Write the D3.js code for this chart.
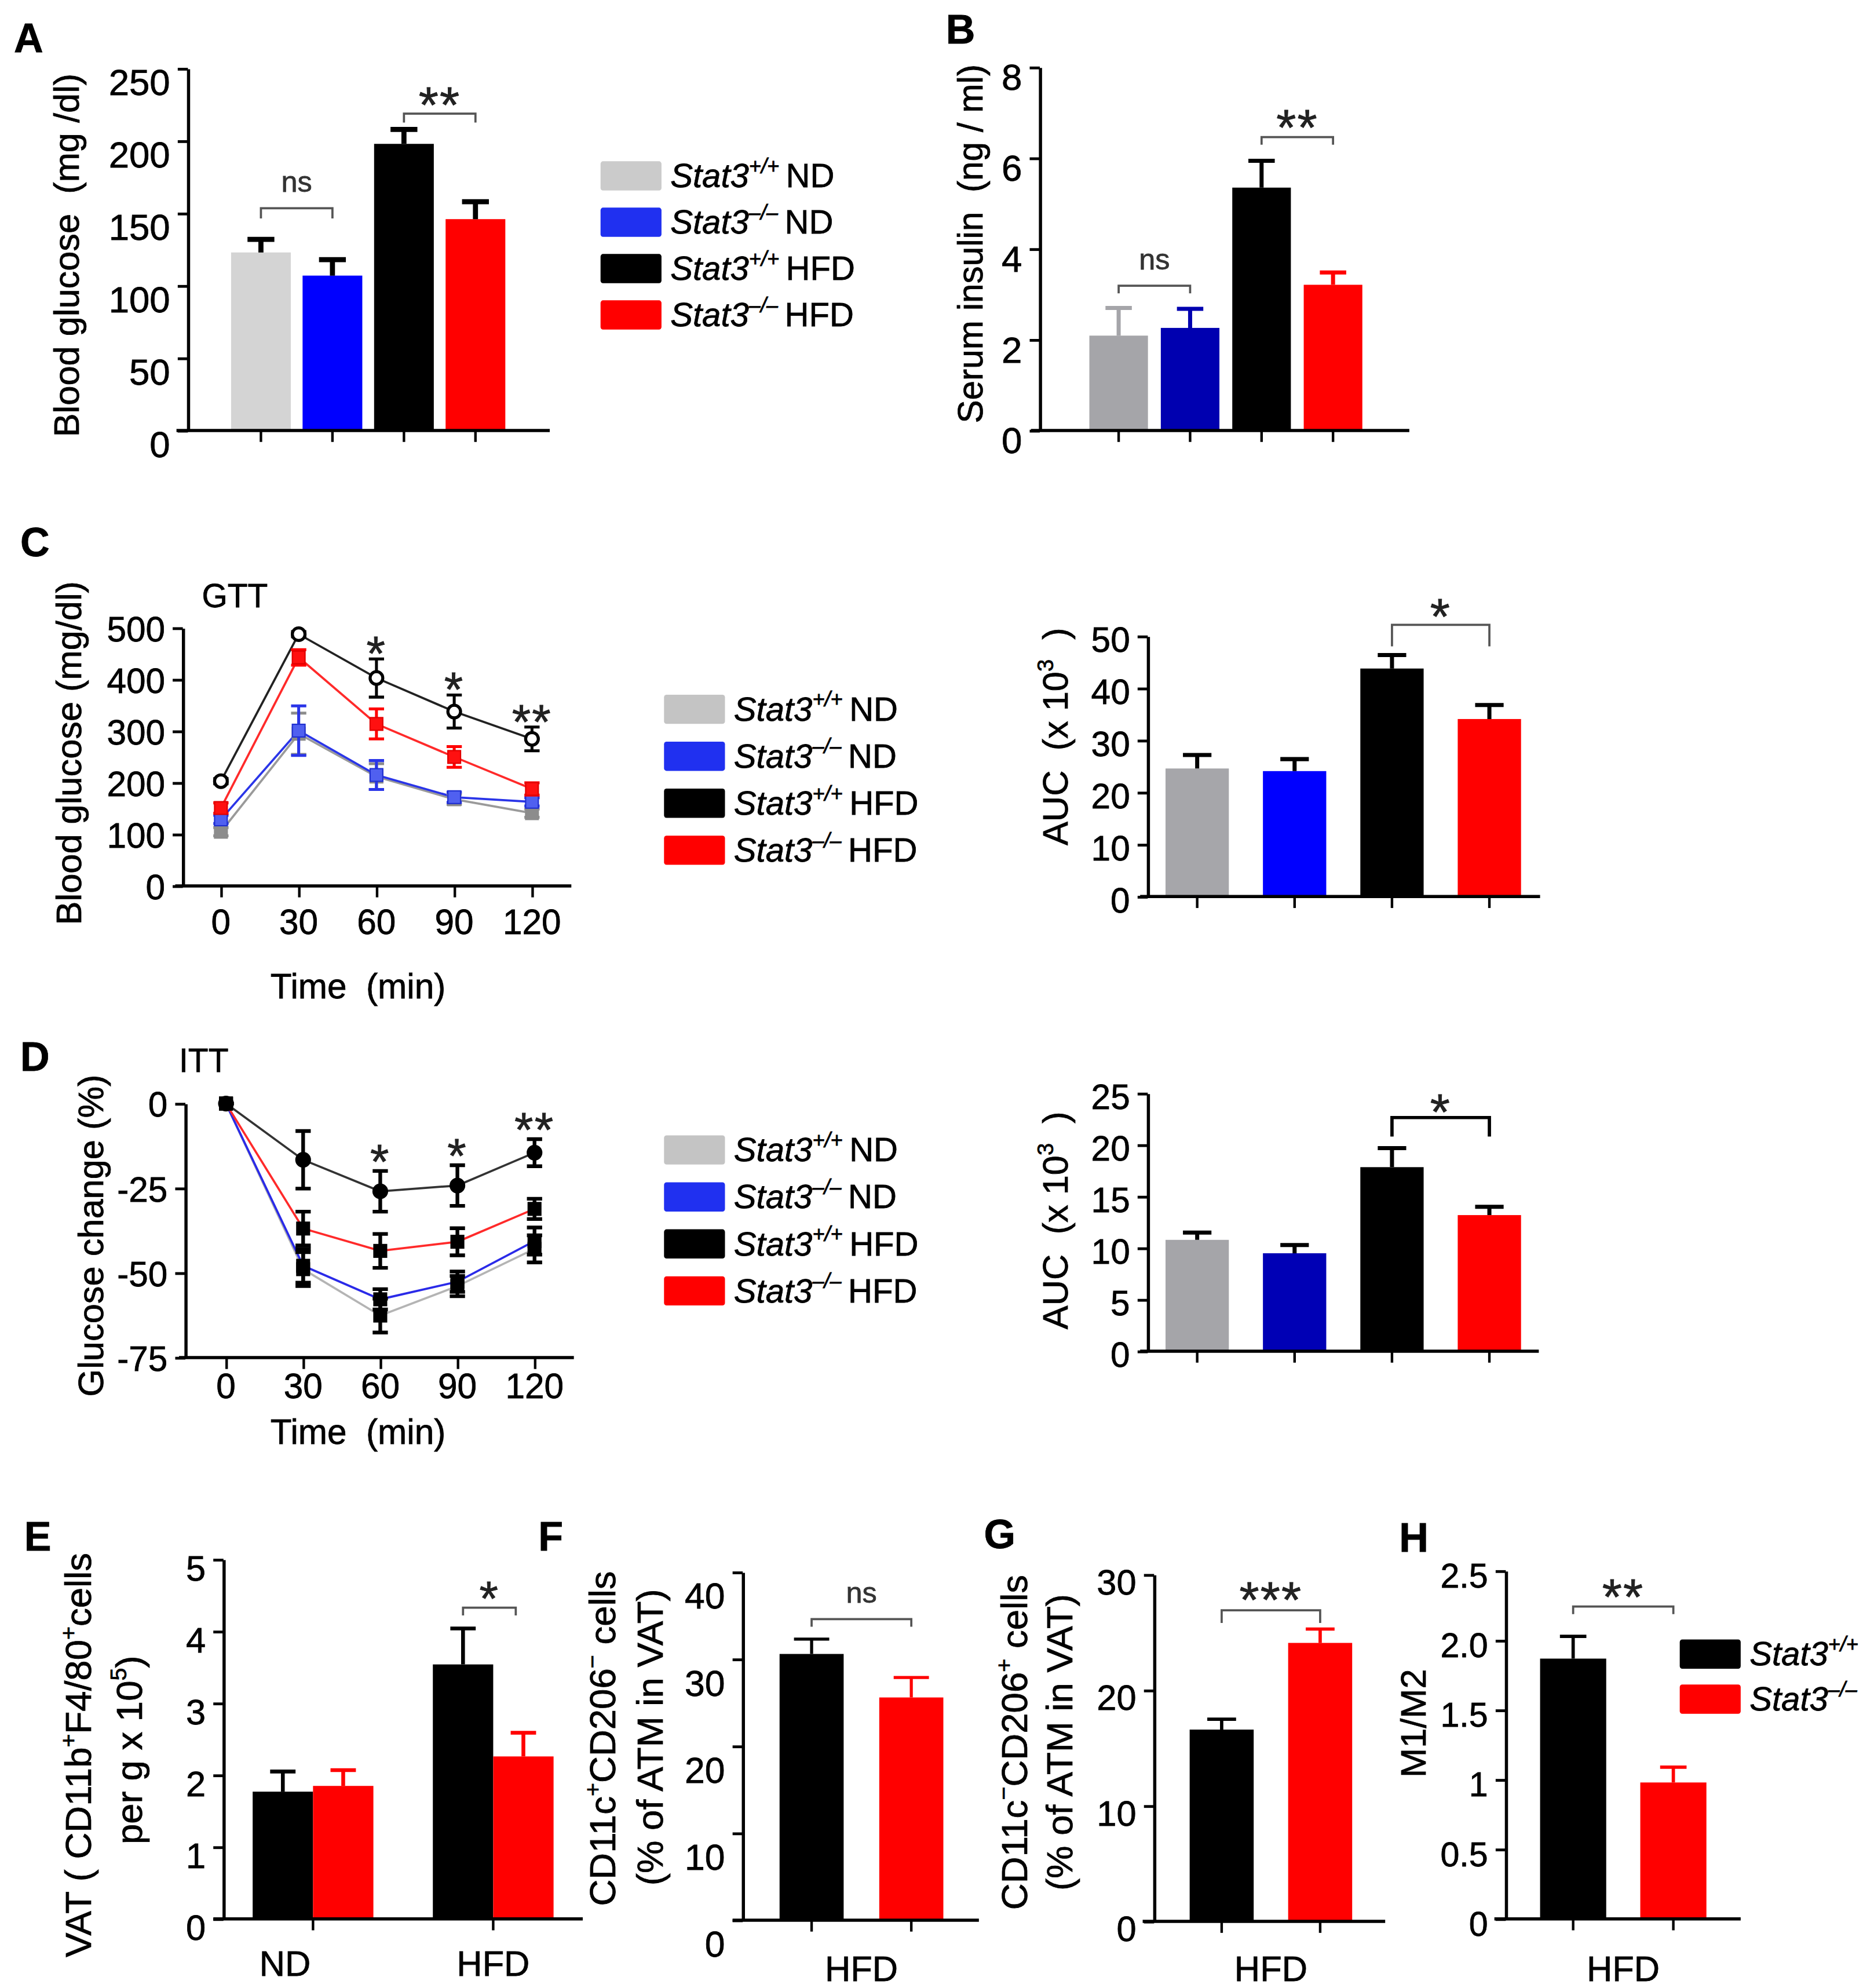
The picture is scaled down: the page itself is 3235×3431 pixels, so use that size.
<!DOCTYPE html>
<meta charset="utf-8">
<script src="https://d3js.org/d3.v7.min.js"></script>
<style>
  body { margin: 0; background: #fff; }
  text { paint-order: stroke; stroke: currentColor; stroke-width: 0.35px; }
</style>
<body>
<script>

  // ---------- data ----------
  var groups = ["wtND", "koND", "wtHFD", "koHFD"];
  var genoSup = ["+/+", "–/–", "+/+", "–/–"];
  var diets4 = ["ND", "ND", "HFD", "HFD"];

  // A: fasting blood glucose (mg/dl)
  var glucose    = [123, 107, 198, 146];
  var glucoseErr = [9, 11, 10, 12];
  // B: serum insulin (ng/ml)
  var insulin    = [2.09, 2.26, 5.35, 3.21];
  var insulinErr = [0.61, 0.42, 0.59, 0.27];

  // C: GTT
  var minutes = [0, 30, 60, 90, 120];
  var gttWtND     = [105, 295, 212, 168, 141];
  var gttWtNDErr  = [8, 40, 25, 10, 8];
  var gttKoND     = [129, 301, 215, 172, 163];
  var gttKoNDErr  = [8, 48, 28, 10, 8];
  var gttWtHFD    = [203, 488, 403, 338, 285];
  var gttWtHFDErr = [5, 5, 37, 32, 23];
  var gttKoHFD    = [151, 443, 314, 250, 188];
  var gttKoHFDErr = [10, 15, 29, 20, 12];
  var gttAuc    = [24.6, 24.1, 43.8, 34.1];
  var gttAucErr = [2.6, 2.3, 2.6, 2.7];
  var gttStars  = [[60, "*"], [90, "*"], [120, "**"]];

  // D: ITT (% change)
  var ittWtND     = [0, -48.9, -62.6, -53.9, -42.9];
  var ittWtNDErr  = [0, 5, 5, 3, 4];
  var ittKoND     = [0, -47.9, -57.8, -52.6, -40.6];
  var ittKoNDErr  = [0, 5, 3, 3, 4];
  var ittWtHFD    = [0, -16.6, -25.9, -24.2, -14.5];
  var ittWtHFDErr = [0, 8.5, 6, 6, 4];
  var ittKoHFD    = [0, -36.9, -43.5, -40.8, -31.1];
  var ittKoHFDErr = [0, 5, 5, 4, 3];
  var ittAuc    = [10.8, 9.5, 17.85, 13.2];
  var ittAucErr = [0.7, 0.8, 1.85, 0.8];
  var ittStars  = [[60, "*"], [90, "*"], [120, "**"]];

  // E: VAT macrophages (per g x 10^5)
  var dietsE = ["ND", "HFD"];
  var genos2 = ["wt", "ko"];
  var vatWt    = [1.77, 3.54];
  var vatWtErr = [0.28, 0.50];
  var vatKo    = [1.85, 2.26];
  var vatKoErr = [0.22, 0.33];

  // F, G, H: HFD only
  var m1Pct    = [30.6, 25.6];
  var m1PctErr = [1.7, 2.3];
  var m2Pct    = [16.6, 24.1];
  var m2PctErr = [0.9, 1.2];
  var m1m2     = [1.87, 0.98];
  var m1m2Err  = [0.16, 0.11];

  // tick labels
  var ticksA = [0, 50, 100, 150, 200, 250];
  var ticksB = [0, 2, 4, 6, 8];
  var ticksC = [0, 100, 200, 300, 400, 500];
  var ticksCAuc = [0, 10, 20, 30, 40, 50];
  var ticksD = [-75, -50, -25, 0];
  var ticksDAuc = [0, 5, 10, 15, 20, 25];
  var ticksE = [0, 1, 2, 3, 4, 5];
  var ticksF = [0, 10, 20, 30, 40];
  var ticksG = [0, 10, 20, 30];
  var ticksH = [0, 0.5, 1, 1.5, 2, 2.5];
  var labelsH = ["0", "0.5", "1", "1.5", "2.0", "2.5"];

  // ---------- setup ----------
  var FONT = '"Liberation Sans", Arial, Helvetica, sans-serif';
  var S = 3235 / 1476;
  var svg = d3.select("body").append("svg")
      .attr("width", 3235).attr("height", 3431).style("display", "block");
  svg.append("rect").attr("width", 3235).attr("height", 3431).attr("fill", "#fff");
  var root = svg.append("g").attr("transform", "scale(" + S + ")")
      .attr("font-family", FONT).attr("fill", "#000").style("color", "#000");

  // text with italic / superscript pieces
  function rich(t, parts, fs) {
    var up = false;
    parts.forEach(function(p) {
      var s = t.append("tspan").text(p.t);
      if (p.it) s.attr("font-style", "italic");
      if (p.sup) {
        s.attr("font-size", fs * 0.62);
        if (!up) { s.attr("dy", -fs * 0.42); up = true; }
      } else {
        s.attr("font-size", fs);
        if (up) { s.attr("dy", fs * 0.42); up = false; }
      }
    });
    return t;
  }

  function yTitle(g, x, y, parts, fs) {
    var t = g.append("text")
        .attr("transform", "translate(" + x + "," + y + ") rotate(-90)")
        .attr("text-anchor", "middle").attr("dy", "0.36em").attr("font-size", fs)
        .attr("xml:space", "preserve");
    rich(t, parts, fs);
  }

  function drawYAxis(g, y, x, ticks, labels, fs, dyOff) {
    var ax = g.append("g").attr("transform", "translate(" + x + ",0)")
        .call(d3.axisLeft(y).tickValues(ticks).tickSize(8).tickSizeOuter(0)
          .tickFormat(function(d, i) { return labels[i]; }));
    ax.attr("font-size", fs).attr("font-family", FONT);
    ax.select(".domain").attr("stroke", "#000").attr("stroke-width", 2.5);
    ax.selectAll(".tick line").attr("stroke", "#000").attr("stroke-width", 2.2);
    ax.selectAll(".tick text").attr("fill", "#000").attr("x", -14)
        .attr("y", dyOff).attr("dy", "0.36em");
  }

  function drawXAxis(g, xs, yPos, x0, x1, tickVals) {
    var axis = d3.axisBottom(xs).tickSize(9).tickSizeOuter(0).tickFormat("");
    if (tickVals) axis.tickValues(tickVals);
    var ax = g.append("g").attr("transform", "translate(0," + yPos + ")").call(axis);
    ax.select(".domain").attr("d", "M" + x0 + ",0H" + x1)
        .attr("stroke", "#000").attr("stroke-width", 2.5);
    ax.selectAll(".tick line").attr("stroke", "#000").attr("stroke-width", 2);
    return ax;
  }

  function bracket(g, xa, xb, yb, leg, label, yText, fs, col, sw) {
    g.append("path")
        .attr("d", "M" + xa + "," + (yb + leg) + "V" + yb + "H" + xb + "V" + (yb + leg))
        .attr("fill", "none").attr("stroke", col || "#555").attr("stroke-width", sw || 1.7);
    starText(g, (xa + xb) / 2, yText, label, fs);
  }

  function starText(g, x, yc, label, fs) {
    if (label === "ns") {
      g.append("text").attr("x", x).attr("y", yc + 7).attr("text-anchor", "middle")
          .attr("font-size", 23).attr("fill", "#333").style("color", "#333").text("ns");
    } else {
      var f = fs || 40;
      g.append("text").attr("x", x).attr("y", yc + f * 0.58)
          .attr("text-anchor", "middle").attr("font-size", f)
          .attr("letter-spacing", 1).attr("fill", "#222").text(label);
    }
  }

  function errBars(g, xs, y, cats, vals, errs, cols, capW, sw) {
    g.selectAll(null).data(vals).join("path")
        .attr("d", function(d, i) {
          var cx = xs(cats[i]) + xs.bandwidth() / 2;
          var yt = y(d + errs[i]);
          return "M" + cx + "," + y(d) + "V" + yt + "M" + (cx - capW / 2) + "," + yt + "H" + (cx + capW / 2);
        })
        .attr("fill", "none").attr("stroke", function(d, i) { return cols[i]; })
        .attr("stroke-width", sw);
  }

  function barPanel(c) {
    var g = root.append("g");
    var xs = d3.scaleBand().domain(c.cats).range(c.barRange).paddingInner(c.pad).paddingOuter(0);
    var y = d3.scaleLinear().domain([0, c.max]).range([c.y0, c.y1]);
    g.selectAll(null).data(c.vals).join("rect")
        .attr("x", function(d, i) { return xs(c.cats[i]); })
        .attr("y", function(d) { return y(d); })
        .attr("width", xs.bandwidth())
        .attr("height", function(d) { return y(0) - y(d); })
        .attr("fill", function(d, i) { return c.colors[i]; });
    errBars(g, xs, y, c.cats, c.vals, c.errs, c.errColors, xs.bandwidth() * (c.cap || 0.45), c.errW || 3);
    drawYAxis(g, y, c.axisX, c.ticks, c.labels || c.ticks.map(String), c.fs || 27, c.dy || 0);
    drawXAxis(g, xs, y(0), c.xStart, c.xEnd);
    (c.sig || []).forEach(function(s) {
      var xa = xs(c.cats[s[0]]) + xs.bandwidth() / 2, xb = xs(c.cats[s[1]]) + xs.bandwidth() / 2;
      bracket(g, xa, xb, s[3], s[4], s[2], s[5], 40, s[6], s[7]);
    });
    if (c.xLabel) {
      g.append("text").attr("x", (c.barRange[0] + c.barRange[1]) / 2).attr("y", c.xLabelY)
          .attr("text-anchor", "middle").attr("font-size", 28).text(c.xLabel);
    }
    return g;
  }

  function legend(x, y0, step, colors, sups, diets) {
    var g = root.append("g");
    colors.forEach(function(col, i) {
      var yy = y0 + i * step;
      g.append("rect").attr("x", x).attr("y", yy - 11).attr("width", 48).attr("height", 23)
          .attr("rx", 2).attr("fill", col);
      var t = g.append("text").attr("x", x + 55).attr("y", yy + 9.5);
      var parts = [{t: "Stat3", it: 1}, {t: sups[i], it: 1, sup: 1}];
      if (diets) parts.push({t: "\u2009" + diets[i]});
      rich(t, parts, 26.5);
    });
  }

  function panelLetter(l, x, y) {
    root.append("text").attr("x", x).attr("y", y).attr("font-size", 32)
        .attr("font-weight", "bold").text(l);
  }

  // ---------- panel letters ----------
  panelLetter("A", 11, 41);
  panelLetter("B", 745, 34);
  panelLetter("C", 16, 438);
  panelLetter("D", 16, 843);
  panelLetter("E", 19, 1221);
  panelLetter("F", 424, 1221);
  panelLetter("G", 775, 1219);
  panelLetter("H", 1102, 1222);

  // ---------- A ----------
  var gA = barPanel({
    cats: groups, vals: glucose, errs: glucoseErr,
    colors: ["#d4d4d4", "#0000ff", "#000", "#ff0000"],
    errColors: ["#000", "#000", "#000", "#000"], errW: 4,
    barRange: [182, 398], pad: 0.165, max: 250, y0: 339, y1: 54,
    axisX: 148, xStart: 139, xEnd: 433, ticks: ticksA, dy: 10, fs: 29,
    sig: [[0, 1, "ns", 164, 8, 144], [2, 3, "**", 89.5, 7, 73]]
  });
  yTitle(gA, 52, 201, [{t: "Blood glucose  (mg /dl)"}], 28);
  legend(473, 138, 36.5, ["#cbcbcb", "#2030f0", "#000", "#ff0000"], genoSup, diets4);

  // ---------- B ----------
  var gB = barPanel({
    cats: groups, vals: insulin, errs: insulinErr,
    colors: ["#a5a5a9", "#0000b0", "#000", "#ff0000"],
    errColors: ["#a5a5a9", "#0000b0", "#000", "#ff0000"], errW: 3.2,
    barRange: [858, 1073], pad: 0.18, max: 8, y0: 339, y1: 53,
    axisX: 819, xStart: 812, xEnd: 1110, ticks: ticksB, dy: 7, fs: 29,
    sig: [[0, 1, "ns", 225, 6, 205], [2, 3, "**", 108, 6, 91]]
  });
  yTitle(gB, 764, 192, [{t: "Serum insulin  (ng / ml)"}], 27.5);

  // ---------- line charts ----------
  function lineChart(c) {
    var g = root.append("g");
    var x = d3.scaleLinear().domain([0, 120]).range(c.xr);
    var y = d3.scaleLinear().domain(c.yd).range(c.yr);
    drawYAxis(g, y, c.axisX, c.yticks, c.yticks.map(String), 27.5, 0);
    drawXAxis(g, x, c.yr[0], c.xStart, c.xEnd, minutes);
    g.selectAll(null).data(minutes).join("text")
        .attr("x", function(d) { return x(d); }).attr("y", c.yr[0] + c.tickLabOff)
        .attr("text-anchor", "middle").attr("font-size", 27.5).text(String);
    var line = d3.line().x(function(d, i) { return x(minutes[i]); }).y(function(d) { return y(d); });
    c.series.forEach(function(s) {
      g.append("path").datum(s.v).attr("d", line).attr("fill", "none")
          .attr("stroke", s.line).attr("stroke-width", 1.7);
    });
    c.series.forEach(function(s) {
      g.selectAll(null).data(s.v).join("path")
          .attr("d", function(d, i) {
            var cx = x(minutes[i]), a = y(d + s.e[i]), b = y(d - s.e[i]);
            return "M" + cx + "," + a + "V" + b + "M" + (cx - 6) + "," + a + "H" + (cx + 6) +
                   "M" + (cx - 6) + "," + b + "H" + (cx + 6);
          })
          .attr("fill", "none").attr("stroke", s.err).attr("stroke-width", c.errW);
      if (s.shape === "circle") {
        g.selectAll(null).data(s.v).join("circle")
            .attr("cx", function(d, i) { return x(minutes[i]); })
            .attr("cy", function(d) { return y(d); })
            .attr("r", 5).attr("fill", s.fill).attr("stroke", s.stroke).attr("stroke-width", 2.4);
      } else {
        g.selectAll(null).data(s.v).join("rect")
            .attr("x", function(d, i) { return x(minutes[i]) - 5; })
            .attr("y", function(d) { return y(d) - 5; })
            .attr("width", 10).attr("height", 10)
            .attr("fill", s.fill).attr("stroke", s.stroke).attr("stroke-width", 1);
      }
    });
    var top = c.series[c.topIdx];
    c.stars.forEach(function(st) {
      var i = minutes.indexOf(st[0]);
      starText(g, x(st[0]), y(top.v[i] + top.e[i]) - c.starGap, st[1], 38);
    });
    g.append("text").attr("x", c.titleX).attr("y", c.titleY).attr("font-size", 26).text(c.title);
    g.append("text").attr("x", c.timeX).attr("y", c.timeY)
        .attr("text-anchor", "middle").attr("font-size", 27.5).attr("xml:space", "preserve")
        .text("Time  (min)");
    return g;
  }

  var gC = lineChart({
    xr: [174, 419], yd: [0, 500], yr: [697.6, 494.5], axisX: 144, xStart: 138, xEnd: 450,
    yticks: ticksC, tickLabOff: 38, errW: 2.3, topIdx: 3, starGap: 13,
    stars: gttStars, title: "GTT", titleX: 159, titleY: 478, timeX: 282, timeY: 786,
    series: [
      {v: gttWtND, e: gttWtNDErr, line: "#9a9a9a", err: "#8c8c8c", fill: "#8c8c8c", stroke: "#8c8c8c", shape: "square"},
      {v: gttKoND, e: gttKoNDErr, line: "#2a35e8", err: "#2a35e8", fill: "#5060f0", stroke: "#2030d0", shape: "square"},
      {v: gttKoHFD, e: gttKoHFDErr, line: "#ff2a2a", err: "#ff0000", fill: "#ff1010", stroke: "#e00000", shape: "square"},
      {v: gttWtHFD, e: gttWtHFDErr, line: "#222", err: "#000", fill: "#fff", stroke: "#000", shape: "circle"}
    ]
  });
  yTitle(gC, 54, 593, [{t: "Blood glucose (mg/dl)"}], 28);
  legend(523, 558, 37, ["#c4c4c4", "#2030f0", "#000", "#ff0000"], genoSup, diets4);

  var gCa = barPanel({
    cats: groups, vals: gttAuc, errs: gttAucErr,
    colors: ["#a6a6aa", "#0000ff", "#000", "#ff0000"],
    errColors: ["#000", "#000", "#000", "#000"], errW: 3.2,
    barRange: [918, 1198], pad: 0.35, max: 50, y0: 706, y1: 501,
    axisX: 904, xStart: 898, xEnd: 1213, ticks: ticksCAuc, dy: 2, fs: 27.5,
    sig: [[2, 3, "*", 492, 17, 476]]
  });
  yTitle(gCa, 831, 580, [{t: "AUC  (x 10"}, {t: "3", sup: 1}, {t: "  )"}], 28);

  var gD = lineChart({
    xr: [178, 421], yd: [-75, 0], yr: [1069, 869], axisX: 146, xStart: 141, xEnd: 452,
    yticks: ticksD, tickLabOff: 32, errW: 2.9, topIdx: 2, starGap: 16,
    stars: ittStars, title: "ITT", titleX: 141, titleY: 844, timeX: 282, timeY: 1137,
    series: [
      {v: ittWtND, e: ittWtNDErr, line: "#b4b4b4", err: "#000", fill: "#000", stroke: "#000", shape: "square"},
      {v: ittKoND, e: ittKoNDErr, line: "#2a2ae8", err: "#000", fill: "#000", stroke: "#000", shape: "square"},
      {v: ittWtHFD, e: ittWtHFDErr, line: "#333", err: "#000", fill: "#000", stroke: "#000", shape: "circle"},
      {v: ittKoHFD, e: ittKoHFDErr, line: "#ff2a2a", err: "#000", fill: "#000", stroke: "#000", shape: "square"}
    ]
  });
  yTitle(gD, 71, 973, [{t: "Glucose change (%)"}], 28);
  legend(523, 905, 37, ["#c4c4c4", "#2030f0", "#000", "#ff0000"], genoSup, diets4);

  var gDa = barPanel({
    cats: groups, vals: ittAuc, errs: ittAucErr,
    colors: ["#a5a5a9", "#0000b5", "#000", "#ff0000"],
    errColors: ["#000", "#000", "#000", "#000"], errW: 3.2,
    barRange: [918, 1198], pad: 0.35, max: 25, y0: 1064, y1: 861,
    axisX: 904, xStart: 898, xEnd: 1212, ticks: ticksDAuc, dy: 2, fs: 27.5,
    sig: [[2, 3, "*", 880, 15, 866, "#000", 2.6]]
  });
  yTitle(gDa, 831, 961, [{t: "AUC  (x 10"}, {t: "3", sup: 1}, {t: "  )"}], 28);

  // ---------- E (grouped) ----------
  (function() {
    var g = root.append("g");
    var xo = d3.scaleBand().domain(dietsE).range([199, 436]).paddingInner(0.33).paddingOuter(0);
    var xi = d3.scaleBand().domain(genos2).range([0, xo.bandwidth()]);
    var y = d3.scaleLinear().domain([0, 5]).range([1511, 1228]);
    var sets = [[vatWt, vatWtErr, "#000", "#000"], [vatKo, vatKoErr, "#ff0000", "#ff0000"]];
    sets.forEach(function(s, k) {
      g.selectAll(null).data(s[0]).join("rect")
          .attr("x", function(d, i) { return xo(dietsE[i]) + xi(genos2[k]); })
          .attr("y", function(d) { return y(d); })
          .attr("width", xi.bandwidth())
          .attr("height", function(d) { return y(0) - y(d); })
          .attr("fill", s[2]);
      g.selectAll(null).data(s[0]).join("path")
          .attr("d", function(d, i) {
            var cx = xo(dietsE[i]) + xi(genos2[k]) + xi.bandwidth() / 2;
            var yt = y(d + s[1][i]);
            return "M" + cx + "," + y(d) + "V" + yt + "M" + (cx - 10) + "," + yt + "H" + (cx + 10);
          })
          .attr("fill", "none").attr("stroke", s[3]).attr("stroke-width", 3);
    });
    drawYAxis(g, y, 176, ticksE, ticksE.map(String), 28, 6);
    drawXAxis(g, xo, y(0), 168, 459);
    g.selectAll(null).data(dietsE).join("text")
        .attr("x", function(d) { return xo(d) + xo.bandwidth() / 2 - (d === "ND" ? 22 : 0); })
        .attr("y", 1556).attr("text-anchor", "middle").attr("font-size", 28).text(String);
    var hx = xo("HFD");
    bracket(g, hx + xi.bandwidth() / 2, hx + xi.bandwidth() * 1.5 - 6, 1266, 6, "*", 1250, 38);
    var t1 = g.append("text").attr("transform", "translate(66,1382) rotate(-90)")
        .attr("text-anchor", "middle").attr("dy", "0.36em");
    rich(t1, [{t: "VAT ( CD11b"}, {t: "+", sup: 1}, {t: "F4/80"}, {t: "+", sup: 1}, {t: "cells"}], 29);
    var t2 = g.append("text").attr("transform", "translate(106,1378) rotate(-90)")
        .attr("text-anchor", "middle").attr("dy", "0.36em");
    rich(t2, [{t: "per g x 10"}, {t: "5", sup: 1}, {t: ")"}], 29);
  })();

  // ---------- F ----------
  var gF = barPanel({
    cats: genos2, vals: m1Pct, errs: m1PctErr,
    colors: ["#000", "#ff0000"], errColors: ["#000", "#ff0000"], errW: 2.4,
    barRange: [614, 743], pad: 0.357, max: 40, y0: 1512, y1: 1238, cap: 0.55,
    axisX: 585, xStart: 577, xEnd: 771, ticks: ticksF, dy: 18, fs: 28.5,
    sig: [[0, 1, "ns", 1275, 6, 1255]], xLabel: "HFD", xLabelY: 1560
  });
  (function() {
    var t1 = gF.append("text").attr("transform", "translate(479,1369) rotate(-90)")
        .attr("text-anchor", "middle").attr("dy", "0.36em");
    rich(t1, [{t: "CD11c"}, {t: "+", sup: 1}, {t: "CD206"}, {t: "\u2212", sup: 1}, {t: " cells"}], 29);
    var t2 = gF.append("text").attr("transform", "translate(516,1368) rotate(-90)")
        .attr("text-anchor", "middle").attr("dy", "0.36em");
    rich(t2, [{t: "(% of ATM in VAT)"}], 29);
  })();

  // ---------- G ----------
  var gG = barPanel({
    cats: genos2, vals: m2Pct, errs: m2PctErr,
    colors: ["#000", "#ff0000"], errColors: ["#000", "#ff0000"], errW: 2.6,
    barRange: [937, 1065], pad: 0.35, max: 30, y0: 1513, y1: 1240,
    axisX: 909, xStart: 900, xEnd: 1091, ticks: ticksG, dy: 5, fs: 28,
    sig: [[0, 1, "***", 1268, 10, 1250]], xLabel: "HFD", xLabelY: 1560
  });
  (function() {
    var t1 = gG.append("text").attr("transform", "translate(803,1372) rotate(-90)")
        .attr("text-anchor", "middle").attr("dy", "0.36em");
    rich(t1, [{t: "CD11c"}, {t: "\u2212", sup: 1}, {t: "CD206"}, {t: "+", sup: 1}, {t: " cells"}], 29);
    var t2 = gG.append("text").attr("transform", "translate(839,1372) rotate(-90)")
        .attr("text-anchor", "middle").attr("dy", "0.36em");
    rich(t2, [{t: "(% of ATM in VAT)"}], 29);
  })();

  // ---------- H ----------
  var gH = barPanel({
    cats: genos2, vals: m1m2, errs: m1m2Err,
    colors: ["#000", "#ff0000"], errColors: ["#000", "#ff0000"], errW: 2.6,
    barRange: [1213, 1344], pad: 0.34, max: 2.5, y0: 1511, y1: 1237, cap: 0.4,
    axisX: 1186, xStart: 1177, xEnd: 1371, ticks: ticksH, labels: labelsH, dy: 3, fs: 27,
    sig: [[0, 1, "**", 1265, 6, 1248]], xLabel: "HFD", xLabelY: 1560
  });
  yTitle(gH, 1113, 1357, [{t: "M1/M2"}], 28);
  legend(1323, 1302, 35.5, ["#000", "#ff0000"], ["+/+", "–/–"], null);

</script>
</body>
